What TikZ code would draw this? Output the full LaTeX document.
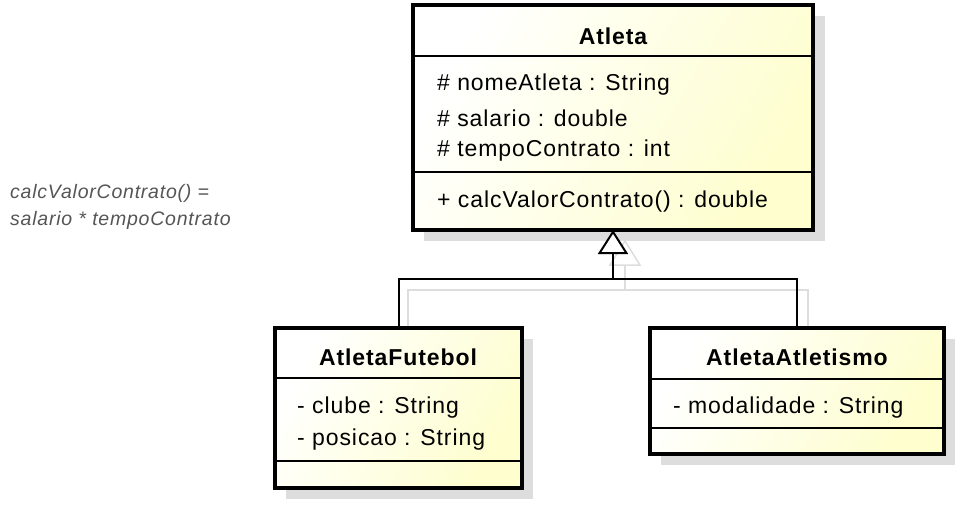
\documentclass[tikz,border=0pt]{standalone}
\usepackage{fontspec}
\setmainfont[LetterSpace=4]{Liberation Sans}
\usetikzlibrary{arrows.meta}
\definecolor{umlyellow}{RGB}{254,254,206}
\definecolor{shadowgray}{RGB}{221,221,221}
\definecolor{notegray}{RGB}{85,85,85}
\begin{document}
\begin{tikzpicture}[x=1pt,y=-1pt,
  classbox/.style={rectangle, anchor=north west, inner sep=0pt, outer sep=0pt, line width=4pt},
  boxfill/.style={left color=white, right color=umlyellow, shading angle=60},
  sepline/.style={line width=1.2pt},
  title/.style={font=\bfseries\fontsize{23}{27}\selectfont, anchor=center},
  member/.style={font=\fontsize{23}{27}\selectfont, anchor=west, inner sep=0pt},
  note/.style={font=\itshape\fontsize{19.5}{23}\selectfont, text=notegray, anchor=west, inner sep=0pt},
  conn/.style={line width=2pt}
]
\useasboundingbox (0,0) rectangle (967,504);

% shadows of boxes
\fill[shadowgray] (424,16) rectangle (825,241);
\fill[shadowgray] (286,339) rectangle (533,499);
\fill[shadowgray] (661,339) rectangle (955,465);

% shadows of connectors
\draw[shadowgray, line width=1.5pt] (408,341) |- (808,290) -- (808,341);
\draw[shadowgray, line width=1.5pt] (625,290) -- (625,265);
\draw[shadowgray, line width=1.5pt] (625,241) -- (640,265) -- (610,265) -- cycle;

% box fills
\node[classbox, boxfill, minimum width=400pt, minimum height=225pt] (atl) at (413,5) {};
\node[classbox, boxfill, minimum width=247pt, minimum height=160pt] (fut) at (275,328) {};
\node[classbox, boxfill, minimum width=294pt, minimum height=126pt] (ath) at (650,328) {};

% connectors
\coordinate (j) at (613,279);
\draw[conn] (fut.north) |- (j);
\draw[conn] (ath.north) |- (j);
\draw[conn, -{Triangle[open, fill=white, width=30pt, length=24pt, line width=2pt]}] (j) -- (atl.south);

% box borders
\draw[line width=4pt] (atl.north west) rectangle (atl.south east);
\draw[line width=4pt] (fut.north west) rectangle (fut.south east);
\draw[line width=4pt] (ath.north west) rectangle (ath.south east);

% compartment lines
\draw[sepline] (413,56) -- (813,56);
\draw[sepline] (413,172) -- (813,172);
\draw[sepline] (275,378) -- (522,378);
\draw[sepline] (275,461) -- (522,461);
\draw[sepline] (650,379) -- (944,379);
\draw[sepline] (650,428) -- (944,428);

% texts
\node[title] (atlT) at (613,36) {Atleta};
\node[member] (a1) at (437,85) {\# nomeAtleta : String};
\node[member] (a2) at (437,118) {\# salario : double};
\node[member] (a3) at (437,151) {\# tempoContrato : int};
\node[member] (a4) at (437,202) {+ calcValorContrato() : double};

\node[title] (futT) at (398,357) {AtletaFutebol};
\node[member] (f1) at (297,408) {- clube : String};
\node[member] (f2) at (297,440) {- posicao : String};

\node[title] (athT) at (797,357) {AtletaAtletismo};
\node[member] (t1) at (673,408) {- modalidade : String};

\node[note] (n1) at (10,193) {calcValorContrato() =};
\node[note] (n2) at (10,220) {salario * tempoContrato};
\end{tikzpicture}
\end{document}
